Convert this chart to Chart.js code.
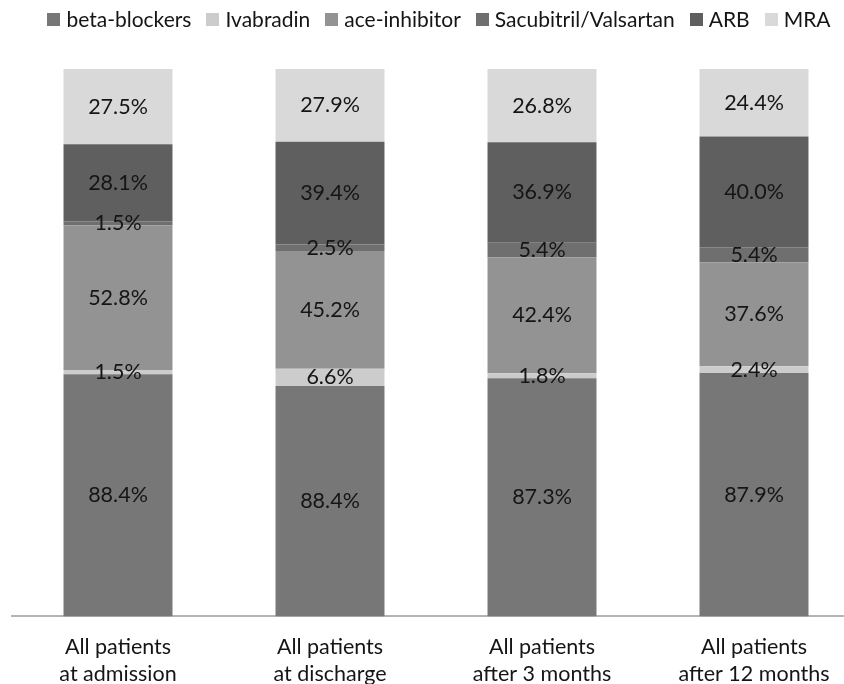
<!DOCTYPE html>
<html>
<head>
<meta charset="utf-8">
<script src="https://cdn.jsdelivr.net/npm/chart.js@4"></script>
<style>
    html, body { margin: 0; padding: 0; background: #fff; overflow: hidden; }
    #wrap { position: relative; width: 844px; height: 684px; overflow: hidden; }
    #legend {
        position: absolute; top: 7px; left: 0; width: 878px;
        display: flex; justify-content: center; gap: 15px;
        font: 21px Lato, "Open Sans", sans-serif; line-height: 24px; color: #151515;
    }
    #legend .item { display: flex; align-items: center; white-space: nowrap; }
    #legend .box { width: 13px; height: 13px; margin-right: 6px; }
</style>
</head>
<body>
<div id="wrap">
    <canvas id="medChart" width="878" height="720"></canvas>
    <div id="legend"></div>
</div>
<script>
// Categories (two-line labels) and the six therapy series, bottom to top
const categories = [
    ['All patients', 'at admission'],
    ['All patients', 'at discharge'],
    ['All patients', 'after 3 months'],
    ['All patients', 'after 12 months']
];
const seriesNames = ['beta-blockers', 'Ivabradin', 'ace-inhibitor', 'Sacubitril/Valsartan', 'ARB', 'MRA'];
const betaBlockers = [88.4, 88.4, 87.3, 87.9];
const ivabradin = [1.5, 6.6, 1.8, 2.4];
const aceInhibitor = [52.8, 45.2, 42.4, 37.6];
const sacubitril = [1.5, 2.5, 5.4, 5.4];
const arb = [28.1, 39.4, 36.9, 40.0];
const mra = [27.5, 27.9, 26.8, 24.4];
const seriesColors = ['#777777', '#cccccc', '#939393', '#6f6f6f', '#5f5f5f', '#d9d9d9'];

const allSeries = [betaBlockers, ivabradin, aceInhibitor, sacubitril, arb, mra];

// 100% stacked: every column is scaled to its own total
const totals = categories.map((c, i) => allSeries.reduce((s, arr) => s + arr[i], 0));

const FONT = 'Lato, "Open Sans", sans-serif';

// legend built as html so the gaps can match
const legendEl = document.getElementById('legend');
seriesNames.forEach((name, i) => {
    const item = document.createElement('div');
    item.className = 'item';
    item.innerHTML = `<span class="box" style="background:${seriesColors[i]}"></span><span>${name}</span>`;
    legendEl.appendChild(item);
});

// draws the raw percentage in the middle of each segment
const segmentLabels = {
    id: 'segmentLabels',
    afterDatasetsDraw(chart) {
        const ctx = chart.ctx;
        ctx.save();
        ctx.font = '21.5px ' + FONT;
        ctx.fillStyle = '#151515';
        ctx.textAlign = 'center';
        ctx.textBaseline = 'middle';
        chart.data.datasets.forEach((ds, di) => {
            const meta = chart.getDatasetMeta(di);
            meta.data.forEach((bar, i) => {
                const y = (bar.y + bar.base) / 2;
                ctx.fillText(ds.rawValues[i].toFixed(1) + '%', bar.x, y);
            });
        });
        ctx.restore();
    }
};

const ctx = document.getElementById('medChart').getContext('2d');
new Chart(ctx, {
    type: 'bar',
    data: {
        labels: categories,
        datasets: allSeries.map((arr, si) => ({
            label: seriesNames[si],
            data: arr.map((v, i) => v / totals[i] * 100),
            rawValues: arr,
            backgroundColor: seriesColors[si],
            borderWidth: 0,
            categoryPercentage: 1,
            barPercentage: 0.514
        }))
    },
    options: {
        responsive: false,
        animation: false,
        layout: { padding: { left: 12, right: 18, top: 69, bottom: 15 } },
        plugins: {
            legend: { display: false },
            tooltip: { enabled: false }
        },
        scales: {
            x: {
                stacked: true,
                grid: { display: false, drawTicks: false },
                border: { display: true, color: '#b4b4b4', width: 2 },
                ticks: {
                    color: '#151515',
                    padding: 17,
                    font: { family: FONT, size: 21.5, lineHeight: 1.27 }
                }
            },
            y: {
                stacked: true,
                display: false,
                min: 0,
                max: 100
            }
        }
    },
    plugins: [segmentLabels]
});
</script>
</body>
</html>
